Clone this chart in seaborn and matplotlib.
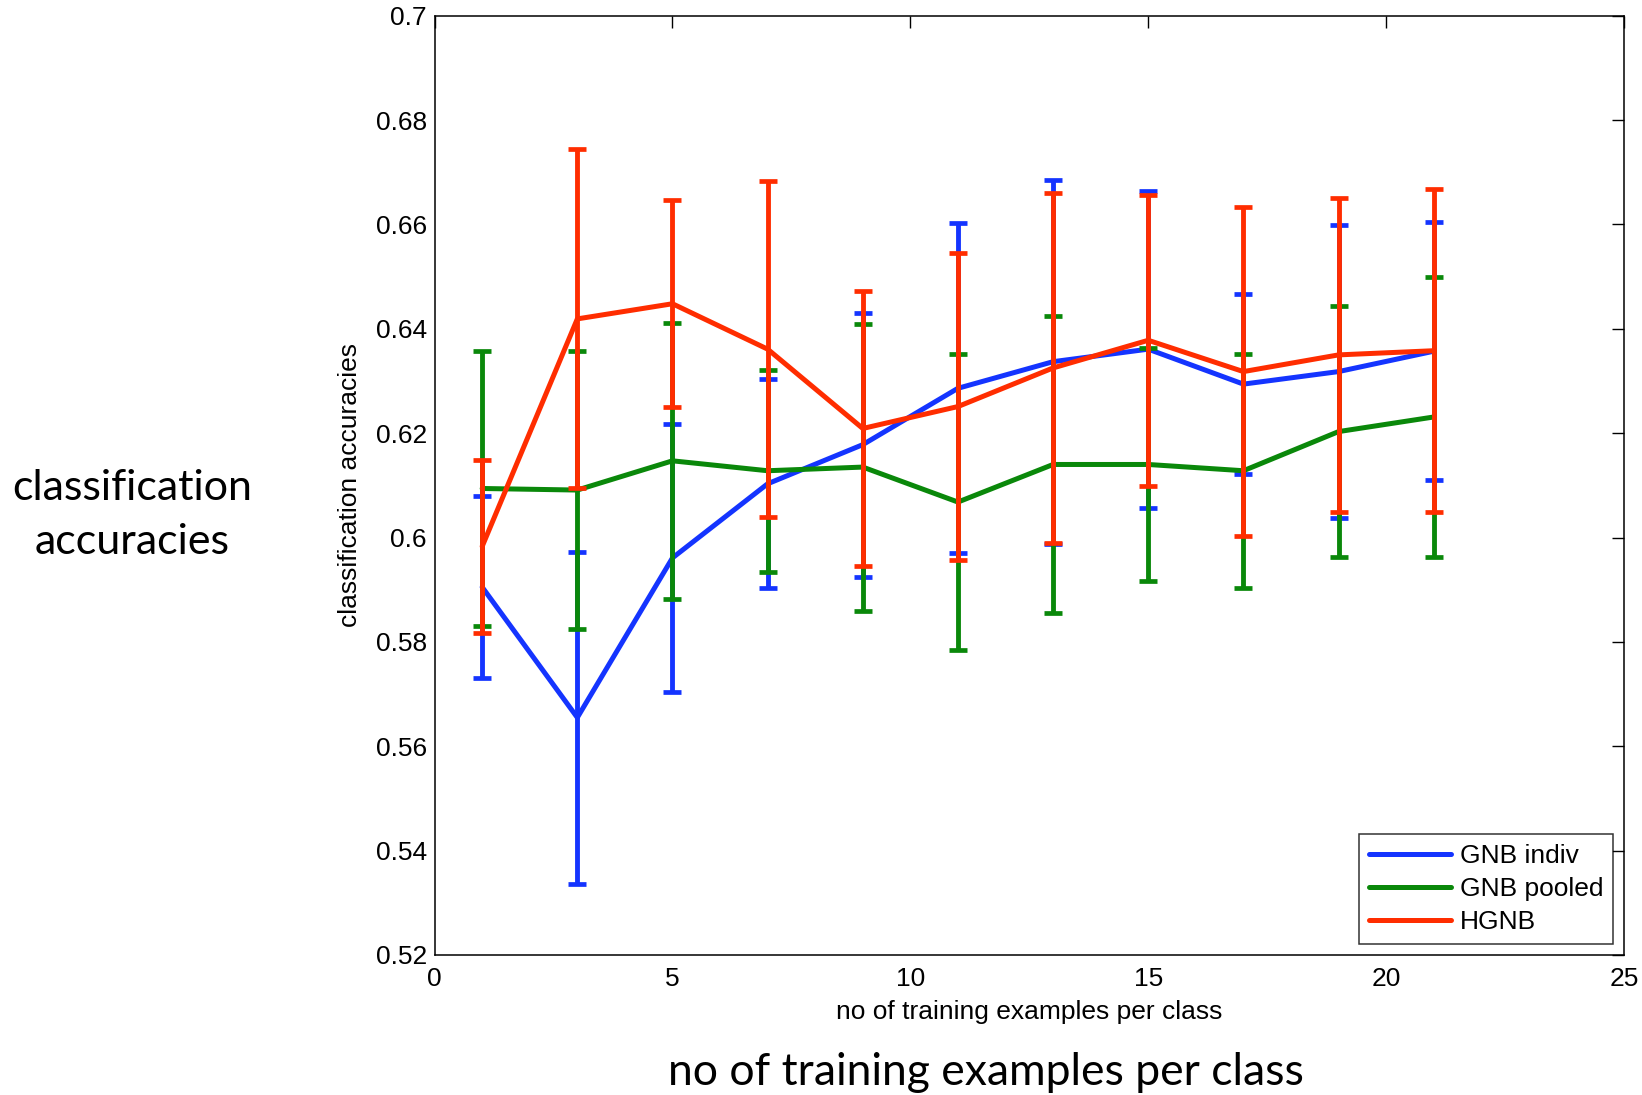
import numpy as np
import pandas as pd
import seaborn as sb
import matplotlib
matplotlib.use('Agg')
import matplotlib.pyplot as plt
from matplotlib.ticker import FuncFormatter

# values (mean and half width of the error bar)
n_train = [1, 3, 5, 7, 9, 11, 13, 15, 17, 19, 21]

gnb_indiv = [0.5905, 0.5655, 0.5961, 0.6103, 0.6178, 0.6286, 0.6337, 0.6361, 0.6294, 0.6318, 0.6357]
gnb_indiv_err = [0.0175, 0.0318, 0.0257, 0.0200, 0.0253, 0.0316, 0.0349, 0.0304, 0.0173, 0.0281, 0.0247]

gnb_pooled = [0.6094, 0.6091, 0.6147, 0.6128, 0.6135, 0.6068, 0.6140, 0.6140, 0.6128, 0.6203, 0.6231]
gnb_pooled_err = [0.0264, 0.0267, 0.0265, 0.0194, 0.0275, 0.0283, 0.0284, 0.0224, 0.0224, 0.0241, 0.0269]

hgnb = [0.5983, 0.6419, 0.6448, 0.6361, 0.6209, 0.6251, 0.6325, 0.6378, 0.6318, 0.6350, 0.6358]
hgnb_err = [0.0165, 0.0325, 0.0198, 0.0322, 0.0264, 0.0295, 0.0336, 0.0279, 0.0316, 0.0301, 0.0310]

x_ticks = [0, 5, 10, 15, 20, 25]
y_ticks = [0.52, 0.54, 0.56, 0.58, 0.60, 0.62, 0.64, 0.66, 0.68, 0.70]

series = [
    ('GNB indiv', gnb_indiv, gnb_indiv_err, '#1434ff'),
    ('GNB pooled', gnb_pooled, gnb_pooled_err, '#0a880a'),
    ('HGNB', hgnb, hgnb_err, '#ff2d00'),
]

sb.set_theme(style='white')
plt.rcParams['font.family'] = ['Liberation Sans', 'DejaVu Sans']
plt.rcParams['text.color'] = 'black'
plt.rcParams['axes.labelcolor'] = 'black'

fig = plt.figure(figsize=(16.42, 10.95), dpi=100)
ax = fig.add_axes([434.6 / 1642, 1 - 955 / 1095, 1189.4 / 1642, 939.3 / 1095])

for name, mean, err, col in series:
    df = pd.DataFrame({'n': n_train, 'acc': mean})
    sb.lineplot(data=df, x='n', y='acc', color=col, lw=3.6, label=name, ax=ax)
    ax.errorbar(n_train, mean, yerr=err, fmt='none', ecolor=col, elinewidth=3.5,
                capsize=6.8, capthick=3.4, label='_nolegend_')

ax.set_xlim(0, 25)
ax.set_ylim(0.52, 0.70)
ax.set_xticks(x_ticks)
ax.set_yticks(y_ticks)
ax.yaxis.set_major_formatter(FuncFormatter(lambda v, p: f'{round(v, 2):g}'))

for s in ax.spines.values():
    s.set_color('black')
    s.set_linewidth(1.1)
ax.tick_params(direction='in', top=True, right=True, length=8.5, width=1,
               labelsize=19, colors='black')
ax.tick_params(axis='x', pad=9)
ax.tick_params(axis='y', pad=5.5)

ax.set_xlabel('no of training examples per class', fontsize=19)
ax.set_ylabel('classification accuracies', fontsize=19)
ax.xaxis.set_label_coords(0.5, -0.048)
ax.yaxis.set_label_coords(-0.061, 0.5)

leg = ax.legend(loc='lower right', fontsize=19, frameon=True, fancybox=False,
                borderaxespad=0.4, handlelength=3.1, handletextpad=0.35,
                borderpad=0.38, labelspacing=0.34)
leg.get_frame().set_edgecolor('black')
leg.get_frame().set_linewidth(1.1)

# the bigger captions added next to the matlab plot
fig.text(132 / 1642, 1 - 515 / 1095, 'classification\naccuracies', fontsize=31,
         family=['Lato', 'DejaVu Sans'], ha='center', va='center',
         multialignment='center', linespacing=1.5)
fig.text(986 / 1642, 1 - 1085 / 1095, 'no of training examples per class', fontsize=32,
         family=['Lato', 'DejaVu Sans'], ha='center', va='baseline')

plt.savefig('out.png', dpi=100)
